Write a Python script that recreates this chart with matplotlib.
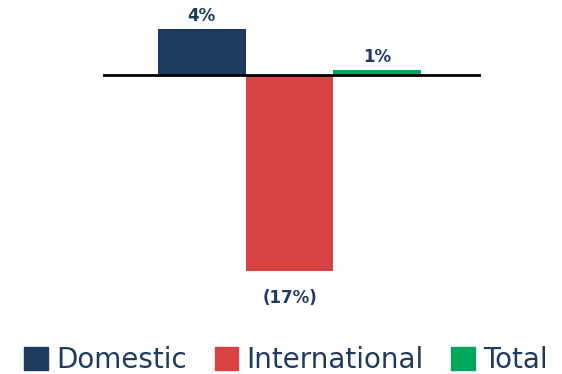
import matplotlib.pyplot as plt

# Datos
categories = ['Domestic', 'International', 'Total']
values = [4.0, -17.0, 0.4]
value_labels = ['4%', '(17%)', '1%']
colors = ['#1e3a5f', '#d84242', '#00a65a']
text_color = '#1e3a5f'

W, H = 562, 374
fig = plt.figure(figsize=(W / 100, H / 100), dpi=100)

# Ejes colocados en píxeles: x 103..481, y 0 en 75 px, 11.5 px por punto
left, right = 103, 481
top_px, bot_px = 10, 300
zero_px, px_per = 75, 11.5
ax = fig.add_axes([left / W, 1 - bot_px / H, (right - left) / W, (bot_px - top_px) / H])
ax.set_ylim(-(bot_px - zero_px) / px_per, (zero_px - top_px) / px_per)
ax.set_xlim(-1.125, 3.18)

x = range(len(categories))
bars = ax.bar(x, values, width=1.0, color=colors, label=categories)
ax.axhline(0, color='black', lw=2)

for xi, v, lab in zip(x, values, value_labels):
    if v >= 0:
        ax.annotate(lab, (xi, v), xytext=(0, 3), textcoords='offset points',
                    ha='center', va='bottom', fontsize=12, fontweight='bold', color=text_color)
    else:
        ax.annotate(lab, (xi, v), xytext=(0, -13), textcoords='offset points',
                    ha='center', va='top', fontsize=12, fontweight='bold', color=text_color)

ax.axis('off')

handles = [plt.Rectangle((0, 0), 1, 1, color=c) for c in colors]
leg = fig.legend(handles, categories, loc='lower center', bbox_to_anchor=(0.509, -0.03),
                 ncol=3, frameon=False, fontsize=20, handlelength=0.85, handleheight=0.85,
                 handletextpad=0.3, columnspacing=1.0, borderaxespad=0)
for t in leg.get_texts():
    t.set_color(text_color)

fig.savefig('out.png', dpi=100)
